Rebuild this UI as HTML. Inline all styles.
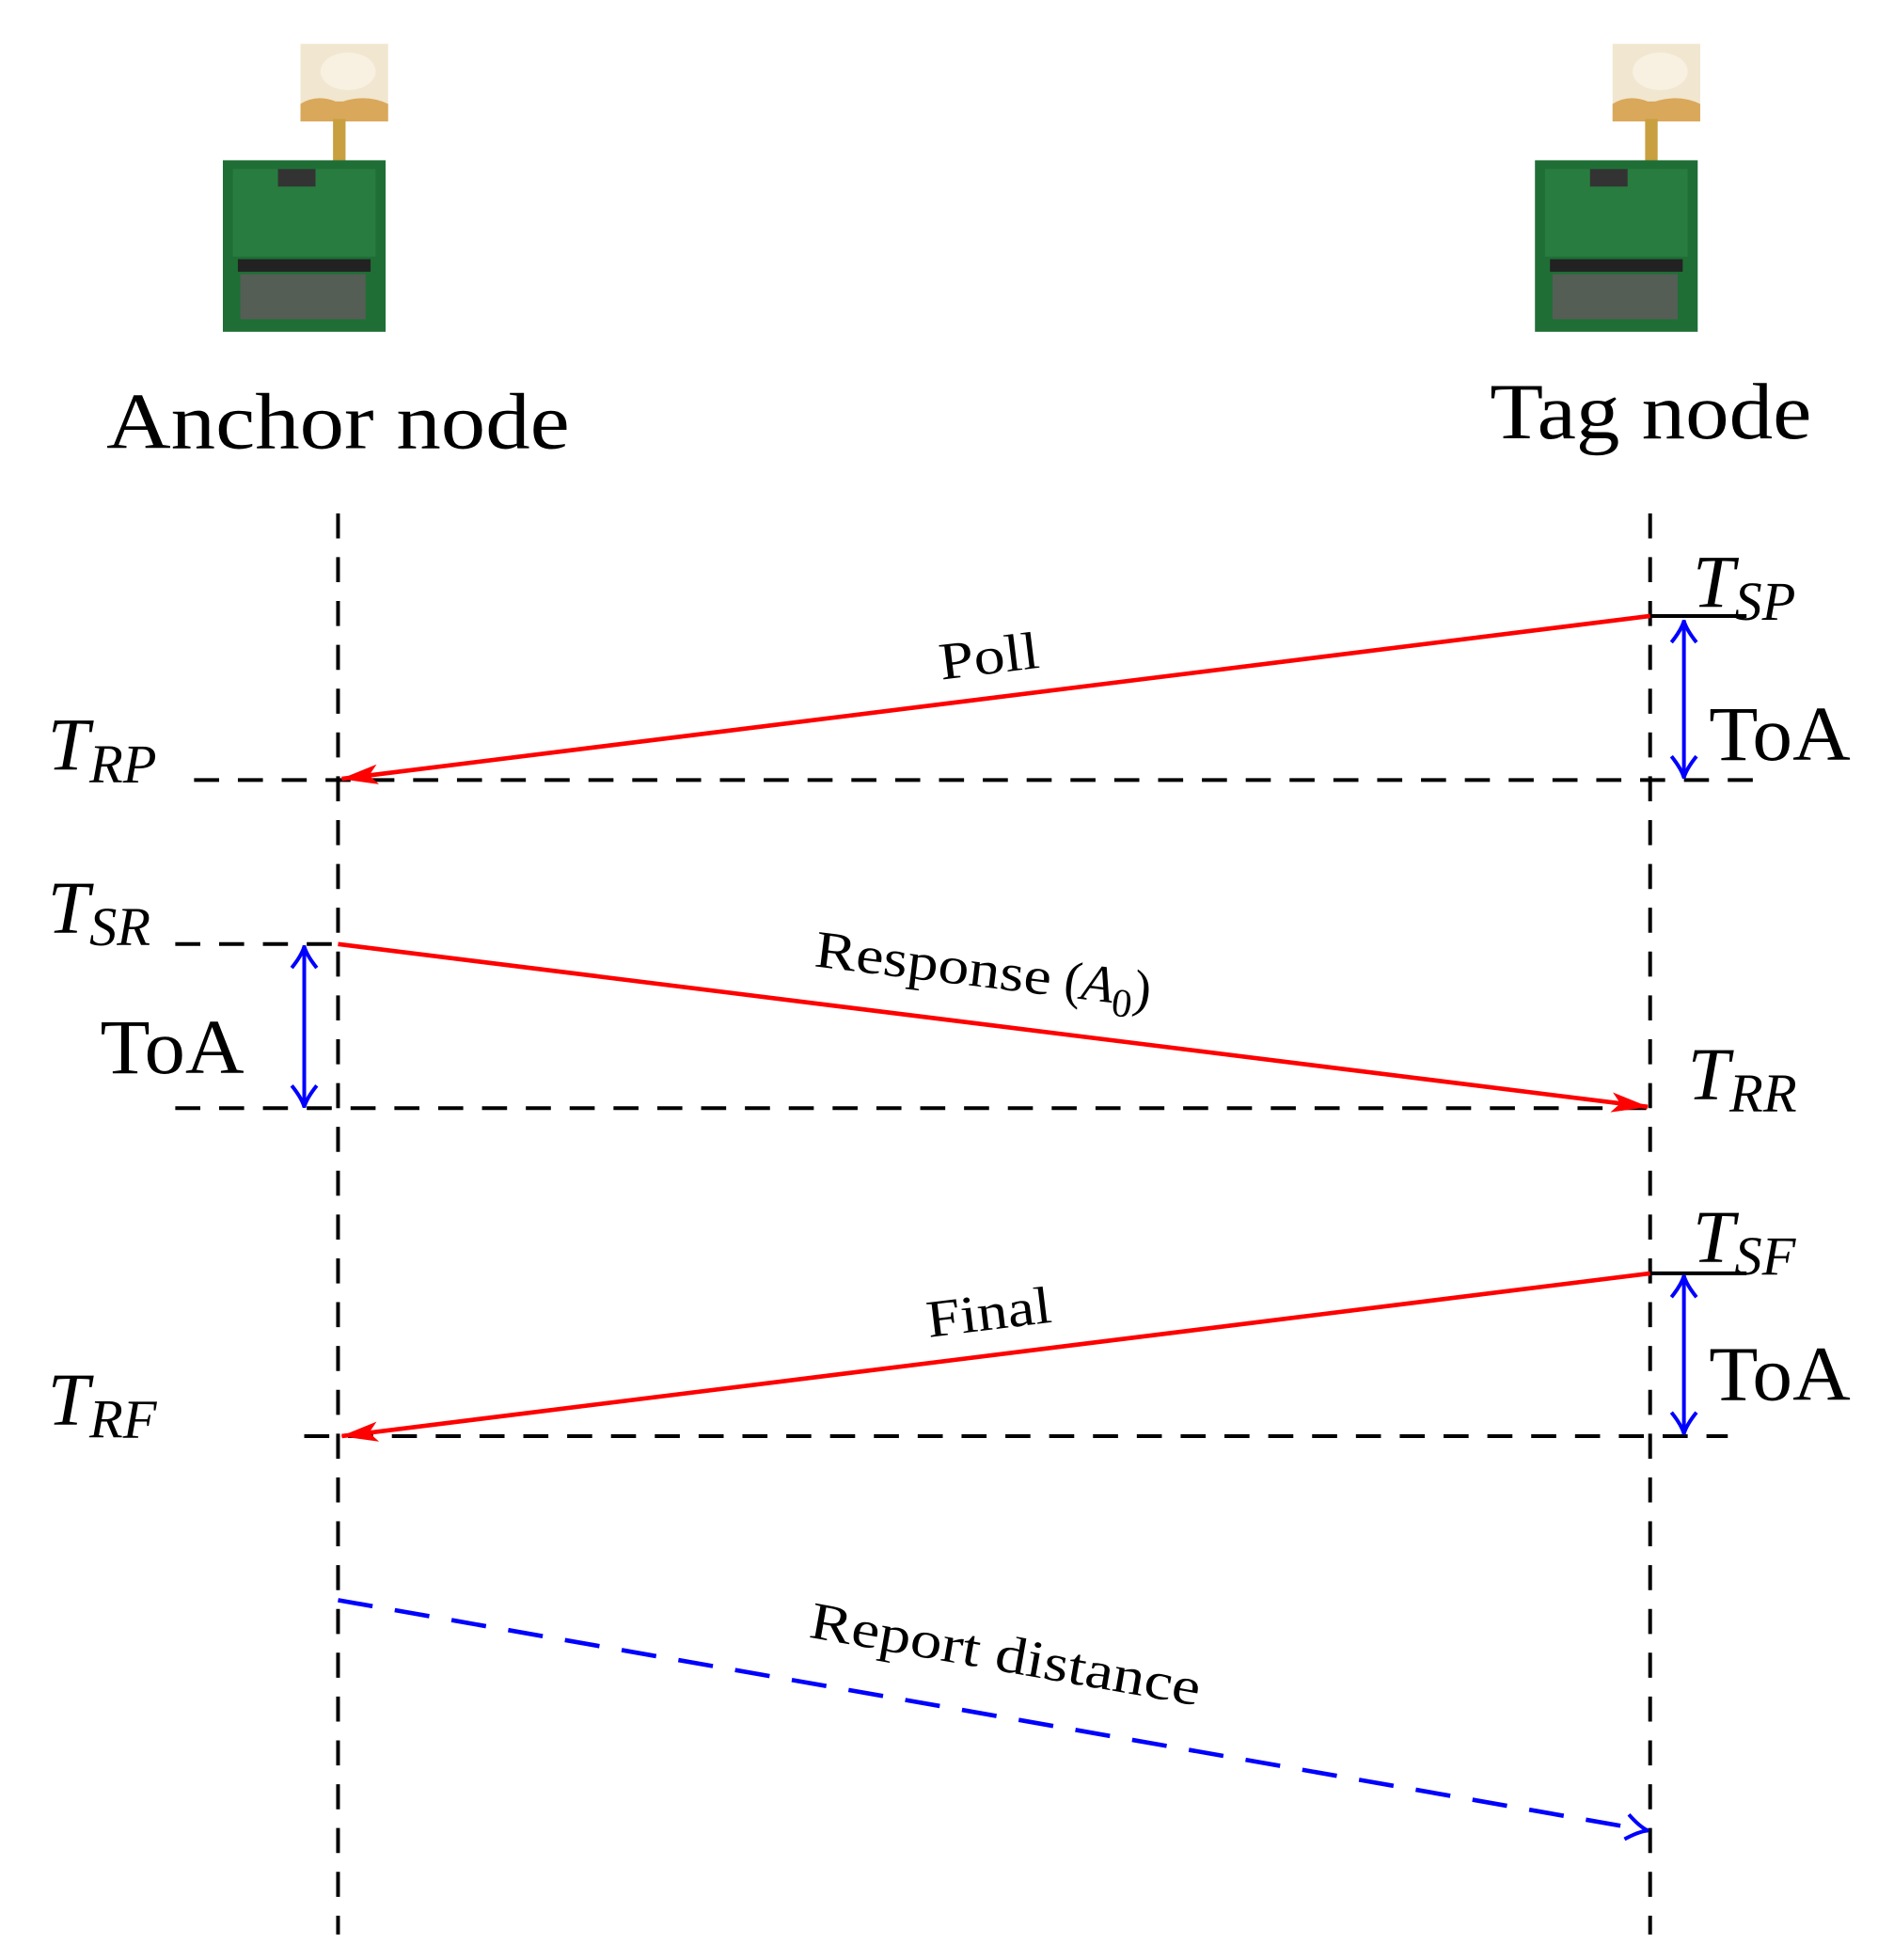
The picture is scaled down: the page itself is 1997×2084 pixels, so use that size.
<!DOCTYPE html>
<html><head><meta charset="utf-8"><style>
html,body{margin:0;padding:0;background:#fff}
svg{display:block}
text{font-family:"Liberation Serif",serif}
</style></head><body>
<svg width="1997" height="2084" viewBox="0 0 1500 1565.4" preserveAspectRatio="none" xmlns="http://www.w3.org/2000/svg">
<defs>
<marker id="rb" viewBox="0 0 30 20" refX="29" refY="10" markerWidth="30" markerHeight="20" orient="auto" markerUnits="userSpaceOnUse"><path d="M0,2 L30,10 L0,18 L7,10 Z" fill="red"/></marker>
<marker id="bo" viewBox="0 0 20 24" refX="19" refY="12" markerWidth="20" markerHeight="24" orient="auto-start-reverse" markerUnits="userSpaceOnUse"><path d="M2,2 Q12,10 19,12 Q12,14 2,22" fill="none" stroke="blue" stroke-width="3"/></marker>
<g id="board">
<path d="M62,0 h70 v62 h-70 z" fill="#f1e6cf"/>
<path d="M62,48 Q75,40 90,46 L96,46 Q115,40 132,48 L132,62 L62,62 Z" fill="#d9a85a"/>
<ellipse cx="100" cy="22" rx="22" ry="15" fill="#f8f1e2"/>
<rect x="88" y="60" width="10" height="35" fill="#c8a040"/>
<rect x="0" y="93" width="130" height="137" fill="#1f6e36"/>
<rect x="8" y="100" width="114" height="70" fill="#2a8042" opacity="0.8"/>
<rect x="12" y="172" width="106" height="10" fill="#222"/>
<rect x="14" y="184" width="100" height="36" fill="#555e55"/>
<rect x="44" y="100" width="30" height="14" fill="#333"/>
</g>
</defs>
<use href="#board" x="178" y="35"/>
<use href="#board" x="1226" y="35"/>
<text x="85" y="358" font-size="64" textLength="370" lengthAdjust="spacingAndGlyphs">Anchor node</text>
<text x="1190" y="350" font-size="64" textLength="257" lengthAdjust="spacingAndGlyphs">Tag node</text>
<g stroke="#000" stroke-width="3" stroke-dasharray="20,15" fill="none">
<line x1="270" y1="410" x2="270" y2="1545"/>
<line x1="1318" y1="410" x2="1318" y2="1545"/>
<line x1="155" y1="623" x2="1400" y2="623"/>
<line x1="140" y1="754" x2="270" y2="754"/>
<line x1="140" y1="885" x2="1318" y2="885"/>
<line x1="243" y1="1147" x2="1380" y2="1147"/>
</g>
<g stroke="#000" stroke-width="3">
<line x1="1318" y1="492" x2="1395" y2="492"/>
<line x1="1318" y1="1017" x2="1395" y2="1017"/>
</g>
<g stroke="red" stroke-width="3.5">
<line x1="1318" y1="492" x2="273" y2="622" marker-end="url(#rb)"/>
<line x1="270" y1="754" x2="1316" y2="884" marker-end="url(#rb)"/>
<line x1="1318" y1="1017" x2="273" y2="1147" marker-end="url(#rb)"/>
</g>
<line x1="270" y1="1278" x2="1316" y2="1462" stroke="blue" stroke-width="3.5" stroke-dasharray="28,18" marker-end="url(#bo)"/>
<g stroke="blue" stroke-width="3">
<line x1="1345" y1="496" x2="1345" y2="621" marker-start="url(#bo)" marker-end="url(#bo)"/>
<line x1="243" y1="756" x2="243" y2="884" marker-start="url(#bo)" marker-end="url(#bo)"/>
<line x1="1345" y1="1019" x2="1345" y2="1145" marker-start="url(#bo)" marker-end="url(#bo)"/>
</g>
<text x="750" y="538" font-size="42" textLength="80" lengthAdjust="spacingAndGlyphs" transform="rotate(-7 790 525)">Poll</text>
<text x="650" y="790" font-size="42" transform="rotate(7 800 778)"><tspan textLength="190" lengthAdjust="spacingAndGlyphs">Response</tspan> (<tspan font-style="italic">A</tspan><tspan font-size="32" dy="10">0</tspan><tspan dy="-10">)</tspan></text>
<text x="740" y="1062" font-size="42" textLength="100" lengthAdjust="spacingAndGlyphs" transform="rotate(-7 790 1050)">Final</text>
<text x="645" y="1335" font-size="42" textLength="316" lengthAdjust="spacingAndGlyphs" transform="rotate(10 803 1322)">Report distance</text>
<g font-size="60" font-style="italic">
<text x="1352" y="485">T<tspan font-size="44" dy="10">SP</tspan></text>
<text x="38" y="615">T<tspan font-size="44" dy="10">RP</tspan></text>
<text x="38" y="745">T<tspan font-size="44" dy="10">SR</tspan></text>
<text x="1348" y="878">T<tspan font-size="44" dy="10">RR</tspan></text>
<text x="1352" y="1008">T<tspan font-size="44" dy="10">SF</tspan></text>
<text x="38" y="1138">T<tspan font-size="44" dy="10">RF</tspan></text>
</g>
<g font-size="62">
<text x="1365" y="607" textLength="113" lengthAdjust="spacingAndGlyphs">ToA</text>
<text x="80" y="857" textLength="115" lengthAdjust="spacingAndGlyphs">ToA</text>
<text x="1365" y="1118" textLength="113" lengthAdjust="spacingAndGlyphs">ToA</text>
</g>
</svg>
</body></html>
